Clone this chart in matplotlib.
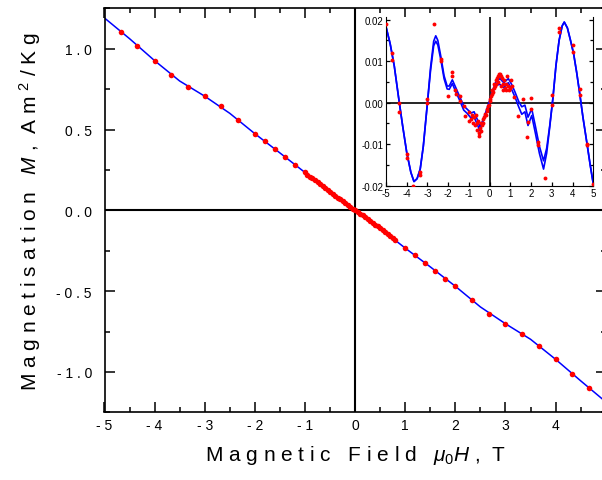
#!/usr/bin/env python
#
# Magnetisation vs field, with the residual (M minus linear fit) as an inset.
#
import numpy as np
import matplotlib
matplotlib.use('Agg')
import matplotlib.pyplot as plt

plt.rcParams['font.family'] = ['Liberation Sans', 'DejaVu Sans']
plt.rcParams['mathtext.fontset'] = 'custom'
plt.rcParams['mathtext.rm'] = 'Liberation Sans'
plt.rcParams['mathtext.it'] = 'Liberation Sans:italic'

# main curve (fit), T and Am^2/kg
fit_h = [-5.0, -4.5, -4.0, -3.5, -3.0, -2.5, -2.0, -1.5, -1.0, -0.5, 0.0,
         0.5, 1.0, 1.5, 2.0, 2.5, 3.0, 3.5, 4.0, 4.5, 5.0]
fit_m = [1.190, 1.062, 0.926, 0.800, 0.706, 0.600, 0.474, 0.355, 0.234, 0.114, 0.0,
         -0.112, -0.234, -0.350, -0.470, -0.598, -0.702, -0.798, -0.922, -1.055, -1.185]

# measured points, main plot
dot_h = [-4.67, -4.35, -4.0, -3.67, -3.33, -3.0, -2.67, -2.33, -2.0, -1.8, -1.6, -1.4, -1.2,
         -1.0, -0.95, -0.90, -0.85, -0.80, -0.75, -0.70, -0.65, -0.60, -0.55, -0.50, -0.45,
         -0.40, -0.35, -0.30, -0.25, -0.20, -0.15, -0.10, -0.05, 0.00, 0.05, 0.10, 0.15,
         0.20, 0.25, 0.30, 0.35, 0.40, 0.45, 0.50, 0.55, 0.60, 0.65, 0.70, 0.75, 0.80,
         1.0, 1.2, 1.4, 1.6, 1.8, 2.0, 2.33, 2.67, 3.0, 3.33, 3.67, 4.0, 4.33, 4.67]
dot_m = [1.105, 1.019, 0.926, 0.840, 0.765, 0.706, 0.646, 0.556, 0.474, 0.427, 0.377, 0.332, 0.283,
         0.234, 0.221, 0.209, 0.197, 0.185, 0.173, 0.161, 0.149, 0.137, 0.125, 0.112, 0.101,
         0.089, 0.078, 0.067, 0.056, 0.045, 0.034, 0.023, 0.011, 0.000, -0.010, -0.022, -0.032,
         -0.044, -0.055, -0.066, -0.077, -0.088, -0.100, -0.111, -0.123, -0.135, -0.147, -0.160,
         -0.172, -0.184,
         -0.234, -0.278, -0.328, -0.373, -0.427, -0.469, -0.554, -0.642, -0.702, -0.763, -0.837,
         -0.921, -1.012, -1.101]

# inset: residual curves (two sweeps)
res_h = [-5.0, -4.8, -4.6, -4.4, -4.2, -4.0, -3.8, -3.65, -3.5, -3.35, -3.2, -3.0, -2.85,
         -2.7, -2.6, -2.5, -2.35, -2.2, -2.05, -1.95, -1.8, -1.65, -1.45, -1.25, -1.1, -0.9,
         -0.75, -0.6, -0.47, -0.35, -0.2, 0.0, 0.15, 0.3, 0.5, 0.68, 0.9, 1.05, 1.22, 1.4,
         1.55, 1.7, 1.85, 2.03, 2.2, 2.4, 2.6, 2.75, 2.9, 3.05, 3.2, 3.35, 3.5, 3.6, 3.75,
         3.9, 4.05, 4.2, 4.35, 4.5, 4.7, 4.85, 5.0]
res_up = [0.0183, 0.0142, 0.0088, 0.0015, -0.0055, -0.0120, -0.0168, -0.0190, -0.0183,
          -0.0160, -0.0105, 0.0000, 0.0085, 0.0148, 0.0161, 0.0150, 0.0110, 0.0065, 0.0040,
          0.0040, 0.0055, 0.0038, 0.0015, -0.0008, -0.0015, -0.0025, -0.0022, -0.0040, -0.0058,
          -0.0045, -0.0025, 0.0005, 0.0030, 0.0050, 0.0058, 0.0048, 0.0058, 0.0045, 0.0026,
          0.0003, -0.0010, -0.0006, -0.0035, -0.0015, -0.0055, -0.0105, -0.0140, -0.0110,
          -0.0055, 0.0010, 0.0090, 0.0150, 0.0185, 0.0194, 0.0180, 0.0150, 0.0118, 0.0072,
          0.0020, -0.0035, -0.0100, -0.0150, -0.0196]
res_dn = [0.0183, 0.0142, 0.0088, 0.0015, -0.0055, -0.0120, -0.0168, -0.0190, -0.0183,
          -0.0160, -0.0105, 0.0000, 0.0078, 0.0137, 0.0148, 0.0139, 0.0102, 0.0058, 0.0033,
          0.0032, 0.0046, 0.0028, 0.0006, -0.0018, -0.0025, -0.0037, -0.0035, -0.0052, -0.0068,
          -0.0050, -0.0028, 0.0000, 0.0025, 0.0042, 0.0044, 0.0036, 0.0048, 0.0033, 0.0014,
          -0.0010, -0.0028, -0.0022, -0.0055, -0.0031, -0.0072, -0.0122, -0.0160, -0.0122,
          -0.0058, 0.0010, 0.0090, 0.0150, 0.0185, 0.0194, 0.0180, 0.0150, 0.0118, 0.0072,
          0.0020, -0.0035, -0.0100, -0.0150, -0.0196]

# inset: residual of measured points
rdot_h = [-5.0, -4.69, -4.69, -4.36, -4.36, -4.0, -4.0, -3.68, -3.36, -3.36, -3.0, -3.0,
          -2.67, -2.35, -2.35, -2.0, -1.82, -1.82, -1.65, -1.62, -1.45, -1.43, -1.22, -1.2,
          -1.02, -1.0, -0.9, -0.85, -0.8, -0.75, -0.7, -0.68, -0.62, -0.6, -0.55, -0.52, -0.5,
          -0.45, -0.42, -0.4, -0.35, -0.32, -0.3, -0.25, -0.22, -0.2, -0.15, -0.12, -0.1,
          -0.05, 0.0, 0.02, 0.05, 0.1, 0.12, 0.15, 0.2, 0.22, 0.25, 0.3, 0.32, 0.35, 0.4,
          0.42, 0.45, 0.5, 0.55, 0.55, 0.6, 0.62, 0.65, 0.7, 0.72, 0.78, 0.8, 0.85, 0.9,
          0.95, 1.0, 1.05, 1.1, 1.19, 1.38, 1.59, 1.8, 1.83, 2.0, 2.0, 2.35, 2.35, 2.67,
          3.02, 3.02, 3.34, 3.34, 4.0, 4.0, 4.36, 4.36, 4.68, 4.68, 5.0]
rdot_m = [0.0190, 0.0119, 0.0102, -0.0002, -0.0023, -0.0124, -0.0134, -0.0200, -0.0168,
          -0.0174, 0.0010, 0.0000, 0.0189, 0.0105, 0.0100, 0.0015, 0.0073, 0.0063, 0.0030,
          0.0020, 0.0017, 0.0005, -0.0008, -0.0032, -0.0023, -0.0045, -0.0040, -0.0030,
          -0.0048, -0.0035, -0.0055, -0.0030, -0.0050, -0.0065, -0.0045, -0.0072, -0.0080,
          -0.0060, -0.0068, -0.0050, -0.0055, -0.0040, -0.0048, -0.0035, -0.0028, -0.0030,
          -0.0020, -0.0015, -0.0008, -0.0005, 0.0005, 0.0010, 0.0015, 0.0020, 0.0030, 0.0025,
          0.0035, 0.0045, 0.0040, 0.0055, 0.0045, 0.0060, 0.0065, 0.0050, 0.0068, 0.0070,
          0.0065, 0.0040, 0.0060, 0.0030, 0.0045, 0.0055, 0.0035, 0.0030, 0.0045, 0.0065,
          0.0040, 0.0030, 0.0035, 0.0055, 0.0040, 0.0014, -0.0031, 0.0010, -0.0083, -0.0047,
          0.0012, -0.0015, -0.0094, -0.0102, -0.0181, 0.0019, -0.0006, 0.0180, 0.0169, 0.0140,
          0.0121, 0.0032, 0.0018, -0.0099, -0.0103, -0.0196]

xticks = [-5, -4, -3, -2, -1, 0, 1, 2, 3, 4, 5]
yticks = [-1.0, -0.5, 0.0, 0.5, 1.0]
ins_yticks = [-0.02, -0.01, 0.0, 0.01, 0.02]


def spaced(s):
    """ Old plotting packages spread letters out; fake it with spaces """
    return ' '.join(s)


fig = plt.figure(figsize=(6.02, 4.81), dpi=100)

# main plot
ax = fig.add_axes([104.5 / 602, (481 - 413.3) / 481, 501.2 / 602, 404.0 / 481])
ax.axhline(0, color='k', lw=1.5, zorder=1)
ax.axvline(0, color='k', lw=1.5, zorder=1)
ax.plot(fit_h, fit_m, color='#0000ff', lw=1.1, zorder=2)
ax.plot(dot_h, dot_m, 'o', color='#ff0000', ms=4, mec='none', zorder=3)
ax.set_xlim(-5, 5)
ax.set_ylim(-1.244, 1.249)

# the "5" at the far right is cut by the picture edge, as in the original
ax.set_xticks(xticks, labels=[spaced(str(t)) for t in xticks])
ax.set_xticks(np.arange(-4.5, 5, 1.0), minor=True)
ax.set_yticks(yticks, labels=[spaced('%.1f' % t) for t in yticks])
ax.set_yticks(np.arange(-1.25, 1.3, 0.5), minor=True)
ax.tick_params(which='both', direction='in', top=True, right=True, width=1.1,
               labelsize=10)
ax.tick_params(which='major', length=7)
ax.tick_params(which='minor', length=3.5)
ax.tick_params(axis='x', pad=4)
ax.tick_params(axis='y', pad=9)
for sp in ax.spines.values():
    sp.set_linewidth(1.2)

ax.set_xlabel('M a g n e t i c   F i e l d   $\\mu_{0}H$ ,  T', fontsize=15, labelpad=8)
ax.set_ylabel('M a g n e t i s a t i o n   $M$ ,  A m $^{2}$ / K g', fontsize=15, labelpad=10)

# inset with the residual
ins = fig.add_axes([386 / 602, (481 - 186.7) / 481, 207.3 / 602, 169.0 / 481])
ins.set_facecolor('white')
ins.axhline(0, color='k', lw=1.2, zorder=1)
ins.axvline(0, color='k', lw=1.2, zorder=1)
ins.plot(res_h, res_up, color='#0000ff', lw=1.2, zorder=2)
ins.plot(res_h, res_dn, color='#0000ff', lw=1.2, zorder=2)
ins.plot(rdot_h, rdot_m, 'o', color='#ff0000', ms=2.8, mec='none', zorder=3)
ins.set_xlim(-5, 5)
ins.set_ylim(-0.02, 0.0207)
ins.set_xticks(xticks, labels=[str(t) for t in xticks])
ins.set_yticks(ins_yticks, labels=['%.2f' % t for t in ins_yticks])
ins.set_yticks(np.arange(-0.015, 0.02, 0.01), minor=True)
ins.spines['top'].set_visible(False)
ins.tick_params(which='both', direction='in', right=True, top=False, width=0.9,
                labelsize=7, pad=2)
ins.tick_params(which='major', length=3)
ins.tick_params(which='minor', length=2)

fig.savefig('out.png', dpi=100)
